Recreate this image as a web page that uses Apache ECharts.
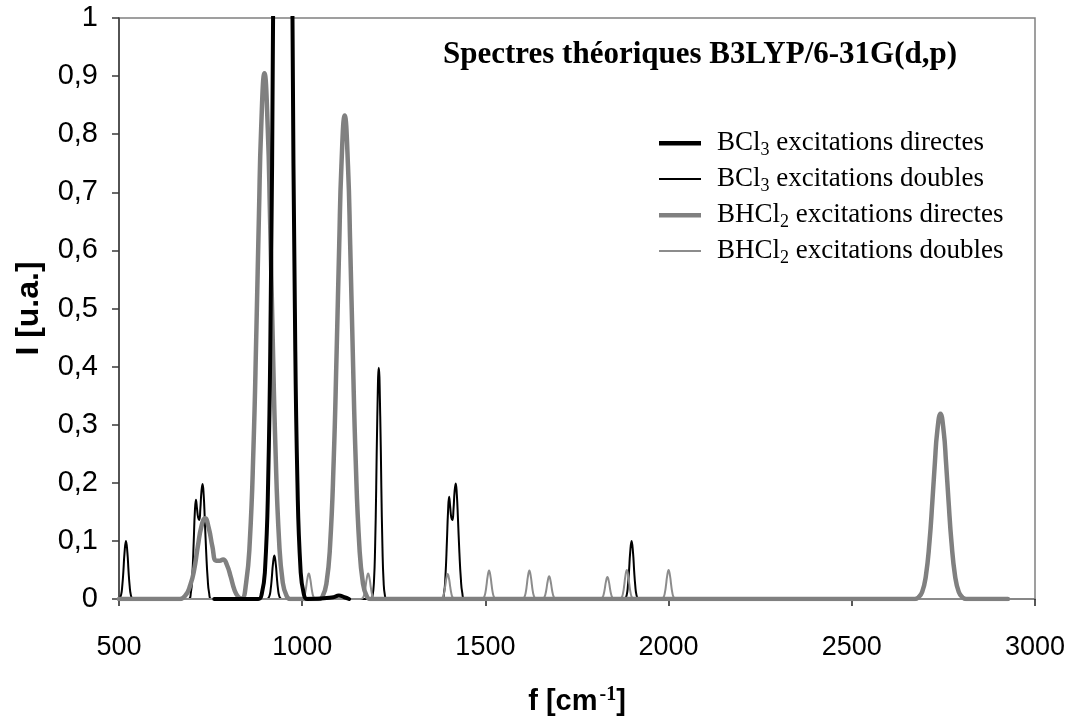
<!DOCTYPE html>
<html>
<head>
<meta charset="utf-8">
<script src="https://cdn.jsdelivr.net/npm/echarts@6/dist/echarts.min.js"></script>
<style>
html,body{margin:0;padding:0;background:#fff;}
#chart{width:1073px;height:723px;}
</style>
</head>
<body>
<div id="chart"></div>
<script>
// ---- Data: [wavenumber cm-1, intensity u.a.] ----
var seriesNames = [
  'BCl3 excitations directes',
  'BCl3 excitations doubles',
  'BHCl2 excitations directes',
  'BHCl2 excitations doubles'
];

var xTickLabels = ['500', '1000', '1500', '2000', '2500', '3000'];
var yTickLabels = ['0', '0,1', '0,2', '0,3', '0,4', '0,5', '0,6', '0,7', '0,8', '0,9', '1'];

// BCl3, direct excitations (thick black) - main band goes off scale
var bcl3Directes = [
  [760, 0], [880, 0], [890, 0.01], [898.5, 0.05], [907, 0.2], [914, 0.5], [920.5, 1.0],
  [930, 2.1], [947, 3.56], [964, 2.1], [973.5, 1.0], [980, 0.5], [987, 0.2],
  [995.5, 0.05], [1004, 0.01], [1014, 0], [1085, 0.003], [1100, 0.006], [1115, 0.003], [1128, 0]
];

// BCl3, double excitations (thin black)
var bcl3Doubles = [
  [500, 0], [502, 0.001], [506, 0.008], [509, 0.023], [512, 0.048], [515, 0.079], [519, 0.1],
  [523, 0.079], [526, 0.048], [529, 0.023], [532, 0.008], [536, 0.001], [541, 0],
  [690, 0], [696, 0.01], [700, 0.04], [704, 0.1], [707, 0.15], [710, 0.171], [713, 0.155],
  [716, 0.14], [719, 0.136], [722, 0.155], [725, 0.185], [728, 0.198], [731, 0.18],
  [734, 0.14], [738, 0.08], [742, 0.035], [746, 0.01], [752, 0],
  [903, 0], [907, 0.001], [911, 0.006], [914, 0.017], [917, 0.036], [920, 0.059], [924, 0.075],
  [928, 0.059], [931, 0.036], [934, 0.017], [937, 0.006], [941, 0.001], [946, 0],
  [1188, 0], [1192, 0.005], [1196, 0.032], [1199, 0.09], [1202, 0.192], [1205, 0.314], [1209, 0.398],
  [1213, 0.314], [1216, 0.192], [1219, 0.09], [1222, 0.032], [1226, 0.005], [1231, 0],
  [1381, 0], [1387, 0.01], [1391, 0.04], [1395, 0.1], [1398, 0.15], [1401, 0.176], [1404, 0.158],
  [1407, 0.14], [1410, 0.136], [1413, 0.155], [1416, 0.186], [1419, 0.199], [1422, 0.18],
  [1425, 0.14], [1429, 0.08], [1433, 0.035], [1437, 0.01], [1443, 0],
  [1878, 0], [1882, 0.001], [1886, 0.008], [1889, 0.023], [1892, 0.048], [1895, 0.079], [1899, 0.1],
  [1903, 0.079], [1906, 0.048], [1909, 0.023], [1912, 0.008], [1916, 0.001], [1921, 0],
  [2926, 0]
];

// BHCl2, direct excitations (thick grey)
var bhcl2Directes = [
  [500, 0], [660, 0], [680, 0.005], [695, 0.025], [705, 0.05], [715, 0.09], [725, 0.125],
  [735, 0.139], [745, 0.122], [755, 0.09], [765, 0.066], [775, 0.066], [784, 0.068],
  [795, 0.058], [805, 0.038], [815, 0.016], [825, 0.004], [835, 0.001],
  [847, 0.028], [857, 0.099], [867, 0.26], [875, 0.463], [882, 0.663], [888, 0.81], [897, 0.905],
  [906, 0.81], [912, 0.663], [919, 0.463], [927, 0.26], [937, 0.099], [947, 0.028], [957, 0.006], [967, 0],
  [1046, 0], [1056, 0.005], [1066, 0.026], [1076, 0.091], [1086, 0.239], [1094, 0.426], [1101, 0.609],
  [1107, 0.745], [1116, 0.832], [1125, 0.745], [1131, 0.609], [1138, 0.426], [1146, 0.239],
  [1156, 0.091], [1166, 0.026], [1176, 0.005], [1186, 0],
  [2672, 0], [2682, 0.003], [2692, 0.012], [2702, 0.039], [2712, 0.098], [2720, 0.169], [2727, 0.237],
  [2733, 0.287], [2742, 0.319], [2751, 0.287], [2757, 0.237], [2764, 0.169], [2772, 0.098],
  [2782, 0.039], [2792, 0.012], [2802, 0.003], [2812, 0], [2926, 0]
];

// BHCl2, double excitations (thin grey)
var bhcl2Doubles = [
  [500, 0],
  [996, 0], [1001, 0.0006], [1005, 0.0036], [1008, 0.0099], [1011, 0.0213], [1014, 0.0347], [1018, 0.044],
  [1022, 0.0347], [1025, 0.0213], [1028, 0.0099], [1031, 0.0036], [1035, 0.0006], [1040, 0],
  [1158, 0], [1163, 0.0006], [1167, 0.0036], [1170, 0.0099], [1173, 0.0213], [1176, 0.0347], [1180, 0.044],
  [1184, 0.0347], [1187, 0.0213], [1190, 0.0099], [1193, 0.0036], [1197, 0.0006], [1202, 0],
  [1375, 0], [1380, 0.0006], [1384, 0.0035], [1387, 0.0097], [1390, 0.0208], [1393, 0.0339], [1397, 0.043],
  [1401, 0.0339], [1404, 0.0208], [1407, 0.0097], [1410, 0.0035], [1414, 0.0006], [1419, 0],
  [1488, 0], [1493, 0.0007], [1497, 0.004], [1500, 0.011], [1503, 0.0237], [1506, 0.0386], [1510, 0.049],
  [1514, 0.0386], [1517, 0.0237], [1520, 0.011], [1523, 0.004], [1527, 0.0007], [1532, 0],
  [1598, 0], [1603, 0.0007], [1607, 0.004], [1610, 0.011], [1613, 0.0237], [1616, 0.0386], [1620, 0.049],
  [1624, 0.0386], [1627, 0.0237], [1630, 0.011], [1633, 0.004], [1637, 0.0007], [1642, 0],
  [1652, 0], [1657, 0.0005], [1661, 0.0032], [1664, 0.0088], [1667, 0.0188], [1670, 0.0307], [1674, 0.039],
  [1678, 0.0307], [1681, 0.0188], [1684, 0.0088], [1687, 0.0032], [1691, 0.0005], [1696, 0],
  [1811, 0], [1816, 0.0005], [1820, 0.0031], [1823, 0.0086], [1826, 0.0184], [1829, 0.0299], [1833, 0.038],
  [1837, 0.0299], [1840, 0.0184], [1843, 0.0086], [1846, 0.0031], [1850, 0.0005], [1855, 0],
  [1864, 0], [1869, 0.0007], [1873, 0.004], [1876, 0.0113], [1879, 0.0242], [1882, 0.0394], [1886, 0.05],
  [1890, 0.0394], [1893, 0.0242], [1896, 0.0113], [1899, 0.004], [1903, 0.0007], [1908, 0],
  [1978, 0], [1983, 0.0007], [1987, 0.004], [1990, 0.0113], [1993, 0.0242], [1996, 0.0394], [2000, 0.05],
  [2004, 0.0394], [2007, 0.0242], [2010, 0.0113], [2013, 0.004], [2017, 0.0007], [2022, 0],
  [2926, 0]
];

// ---- Chart ----
var chart = echarts.init(document.getElementById('chart'), null, {renderer: 'canvas'});

var colors = ['#000000', '#000000', '#808080', '#8c8c8c'];
// legend swatches: a bar inside a fixed 42x14 box, thick or thin
var thickIcon = 'path://M0,0M42,14M0,5h42v4.5h-42z';
var thinIcon = 'path://M0,0M42,14M0,6h42v2h-42z';
var legendIcons = [thickIcon, thinIcon, thickIcon, thinIcon];

function subName(name) {
  return name.replace(/^(BH?Cl)(\d)(.*)$/, '{n|$1}{sub|$2}{n|$3}');
}

function mkLine(name, data, color, width, z) {
  return {
    name: name,
    type: 'line',
    data: data,
    showSymbol: false,
    symbol: 'none',
    smooth: 0.5,
    clip: true,
    z: z,
    lineStyle: {color: color, width: width, join: 'round', cap: 'round'},
    itemStyle: {color: color},
    emphasis: {disabled: true}
  };
}

var option = {
  animation: false,
  backgroundColor: '#ffffff',
  title: {
    text: 'Spectres théoriques B3LYP/6-31G(d,p)',
    left: 443,
    top: 39,
    padding: 0,
    textStyle: {
      fontFamily: 'Liberation Serif',
      fontWeight: 'bold',
      fontSize: 31,
      color: '#000'
    }
  },
  legend: {
    data: seriesNames.map(function (n, i) {
      return {name: n, icon: legendIcons[i], itemStyle: {color: colors[i]}};
    }),
    orient: 'vertical',
    left: 659,
    top: 127,
    padding: 0,
    itemWidth: 42,
    itemHeight: 14,
    itemGap: 4,
    selectedMode: false,
    formatter: subName,
    textStyle: {
      color: '#000',
      fontFamily: 'Liberation Serif',
      fontSize: 27,
      padding: [0, 0, 0, 11],
      rich: {
        n: {fontFamily: 'Liberation Serif', fontSize: 27, color: '#000', lineHeight: 28},
        sub: {fontFamily: 'Liberation Serif', fontSize: 18, color: '#000', lineHeight: 28, padding: [14, 0, 0, 0]}
      }
    }
  },
  grid: {
    left: 119,
    right: 38,
    top: 18,
    bottom: 124,
    show: true,
    borderColor: '#808080',
    borderWidth: 1.5,
    backgroundColor: 'transparent'
  },
  xAxis: {
    type: 'value',
    min: 500,
    max: 3000,
    interval: 500,
    name: 'f [cm{sup|-1}]',
    nameLocation: 'middle',
    nameGap: 86,
    nameTextStyle: {
      fontFamily: 'Liberation Sans',
      fontWeight: 'bold',
      fontSize: 29,
      color: '#000',
      rich: {
        sup: {fontFamily: 'Liberation Serif', fontSize: 20, color: '#000', padding: [0, 0, 14, 2]}
      }
    },
    axisLine: {show: true, onZero: false, lineStyle: {color: '#808080', width: 1.5}},
    axisTick: {show: true, inside: false, length: 7, lineStyle: {color: '#222', width: 1.5}},
    axisLabel: {
      margin: 35,
      fontFamily: 'Liberation Sans',
      fontSize: 27,
      color: '#000',
      formatter: function (v) {
        var i = Math.round((v - 500) / 500);
        return xTickLabels[i] !== undefined ? xTickLabels[i] : '';
      }
    },
    splitLine: {show: false}
  },
  yAxis: {
    type: 'value',
    min: 0,
    max: 1,
    interval: 0.1,
    name: 'I [u.a.]',
    nameLocation: 'middle',
    nameRotate: 90,
    nameGap: 74,
    nameTextStyle: {
      fontFamily: 'Liberation Sans',
      fontWeight: 'bold',
      fontSize: 32,
      color: '#000'
    },
    axisLine: {show: true, lineStyle: {color: '#3a3a3a', width: 1.5}},
    axisTick: {show: true, inside: false, length: 7, lineStyle: {color: '#3a3a3a', width: 1.5}},
    axisLabel: {
      margin: 21,
      fontFamily: 'Liberation Sans',
      fontSize: 29,
      color: '#000',
      formatter: function (v) {
        var i = Math.round(v * 10);
        return yTickLabels[i] !== undefined ? yTickLabels[i] : '';
      }
    },
    splitLine: {show: false}
  },
  series: [
    mkLine(seriesNames[1], bcl3Doubles, colors[1], 2, 2),
    mkLine(seriesNames[3], bhcl2Doubles, colors[3], 2, 3),
    mkLine(seriesNames[2], bhcl2Directes, colors[2], 4.5, 4),
    mkLine(seriesNames[0], bcl3Directes, colors[0], 4, 5)
  ]
};

chart.setOption(option);
</script>
</body>
</html>
